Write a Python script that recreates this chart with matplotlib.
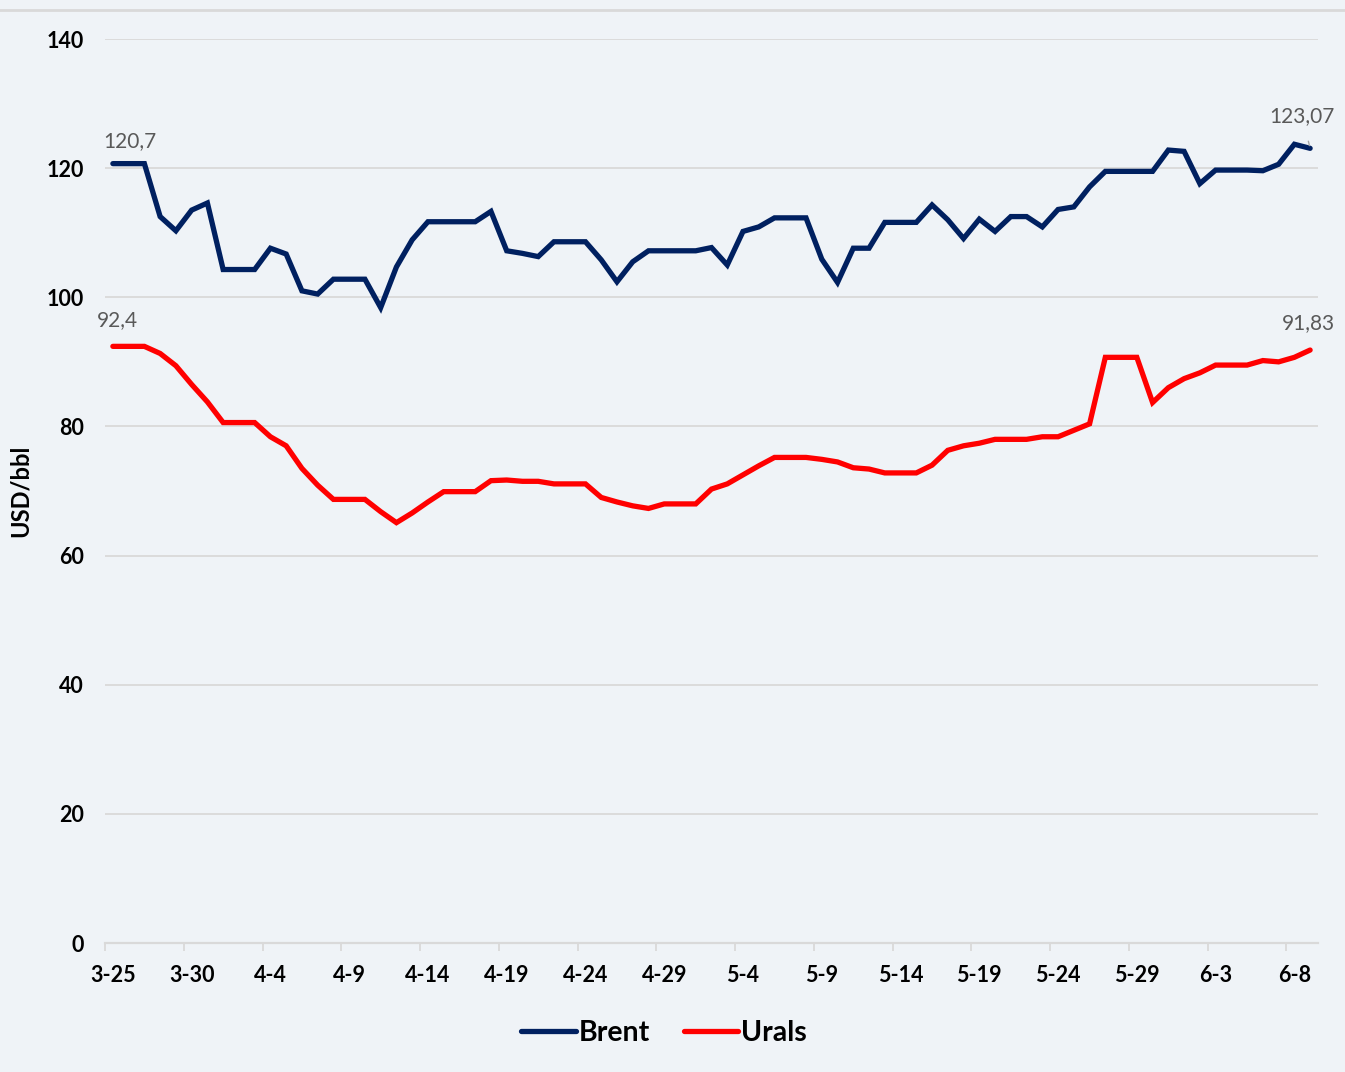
import matplotlib
matplotlib.use("Agg")
import matplotlib.pyplot as plt
from matplotlib.lines import Line2D
import numpy as np

# daily quotes 25 Mar - 9 Jun
DATES = (
    [f"3-{d}" for d in range(25, 32)]
    + [f"4-{d}" for d in range(1, 31)]
    + [f"5-{d}" for d in range(1, 32)]
    + [f"6-{d}" for d in range(1, 10)]
)

BRENT = [
    120.7, 120.7, 120.7, 112.5, 110.3, 113.5, 114.6, 104.3, 104.3, 104.3,
    107.6, 106.7, 101.0, 100.5, 102.8, 102.8, 102.8, 98.4, 104.7, 108.9,
    111.7, 111.7, 111.7, 111.7, 113.3, 107.2, 106.8, 106.3, 108.6, 108.6,
    108.6, 105.8, 102.4, 105.5, 107.2, 107.2, 107.2, 107.2, 107.7, 105.0,
    110.2, 110.9, 112.3, 112.3, 112.3, 105.9, 102.3, 107.6, 107.6, 111.6,
    111.6, 111.6, 114.3, 112.0, 109.1, 112.1, 110.2, 112.5, 112.5, 110.9,
    113.6, 114.0, 117.1, 119.5, 119.5, 119.5, 119.5, 122.8, 122.6, 117.6,
    119.7, 119.7, 119.7, 119.6, 120.6, 123.7, 123.07,
]

URALS = [
    92.4, 92.4, 92.4, 91.3, 89.4, 86.5, 83.8, 80.6, 80.6, 80.6,
    78.4, 77.0, 73.5, 70.9, 68.7, 68.7, 68.7, 66.8, 65.1, 66.6,
    68.3, 69.9, 69.9, 69.9, 71.6, 71.7, 71.5, 71.5, 71.1, 71.1,
    71.1, 69.0, 68.3, 67.7, 67.3, 68.0, 68.0, 68.0, 70.3, 71.1,
    72.5, 73.9, 75.2, 75.2, 75.2, 74.9, 74.5, 73.6, 73.4, 72.8,
    72.8, 72.8, 74.0, 76.3, 77.0, 77.4, 78.0, 78.0, 78.0, 78.4,
    78.4, 79.4, 80.4, 90.7, 90.7, 90.7, 83.7, 86.0, 87.4, 88.3,
    89.5, 89.5, 89.5, 90.2, 90.0, 90.7, 91.83,
]

BRENT_COLOR = "#002060"
URALS_COLOR = "#ff0000"
BG = "#eff3f7"
GRID = "#d9d9d9"
FONT = "Lato"

plt.rcParams["font.family"] = [FONT, "DejaVu Sans"]

x = np.arange(len(DATES))

fig = plt.figure(figsize=(13.45, 10.72), dpi=100, facecolor=BG)
ax = fig.add_axes([105 / 1345, 1 - 943 / 1072, (1318 - 105) / 1345, (943 - 39) / 1072])
ax.set_facecolor(BG)

# thin border line at the very top of the picture
fig.add_artist(Line2D([0, 1], [1 - 10 / 1072] * 2, transform=fig.transFigure,
                      color=GRID, lw=2))

ax.plot(x, BRENT, color=BRENT_COLOR, lw=3.8, solid_joinstyle="miter",
        solid_capstyle="round", label="Brent", zorder=3)
ax.plot(x, URALS, color=URALS_COLOR, lw=3.8, solid_joinstyle="miter",
        solid_capstyle="round", label="Urals", zorder=3)

ax.set_xlim(-0.5, len(DATES) - 0.5)
ax.set_ylim(0, 140)

ax.set_yticks(range(0, 141, 20))
ax.grid(axis="y", color=GRID, lw=1.3)
ax.set_axisbelow(True)

major = list(range(0, len(DATES), 5))
ax.set_xticks(major)
ax.set_xticklabels([DATES[i] for i in major])
ax.set_xticks([i - 0.5 for i in major], minor=True)
ax.tick_params(axis="x", which="major", length=0, pad=16)
ax.tick_params(axis="x", which="minor", length=6, width=1.3, color=GRID)
ax.tick_params(axis="y", length=0, pad=15)
for lab in ax.get_xticklabels() + ax.get_yticklabels():
    lab.set_fontsize(15.5)
    lab.set_fontweight("bold")
    lab.set_color("black")

for side in ("top", "right", "left"):
    ax.spines[side].set_visible(False)
ax.spines["bottom"].set_color(GRID)
ax.spines["bottom"].set_linewidth(1.6)

ax.set_ylabel("USD/bbl", fontsize=17, fontweight="bold")
ax.yaxis.set_label_coords(-73 / 1213, 0.5)

ann = dict(textcoords="offset pixels", fontsize=15, color="#595959",
           ha="center", va="center", annotation_clip=False)
ax.annotate("120,7", (0, BRENT[0]), xytext=(17, 23), **ann)
ax.annotate("92,4", (0, URALS[0]), xytext=(5, 26), **ann)
ax.annotate("123,07", (x[-1], BRENT[-1]), xytext=(-8, 32),
            arrowprops=dict(arrowstyle="-", color="#a6a6a6", lw=1,
                            shrinkA=9, shrinkB=2), **ann)
ax.annotate("91,83", (x[-1], URALS[-1]), xytext=(-2, 27), **ann)

fig.legend(loc="center", bbox_to_anchor=(664 / 1345, 1 - 1033 / 1072), ncol=2,
           frameon=False, prop={"family": FONT, "weight": "bold", "size": 20.5},
           handlelength=1.9, handletextpad=0.1, columnspacing=1.2)

fig.savefig("out.png", dpi=100, facecolor=BG)
